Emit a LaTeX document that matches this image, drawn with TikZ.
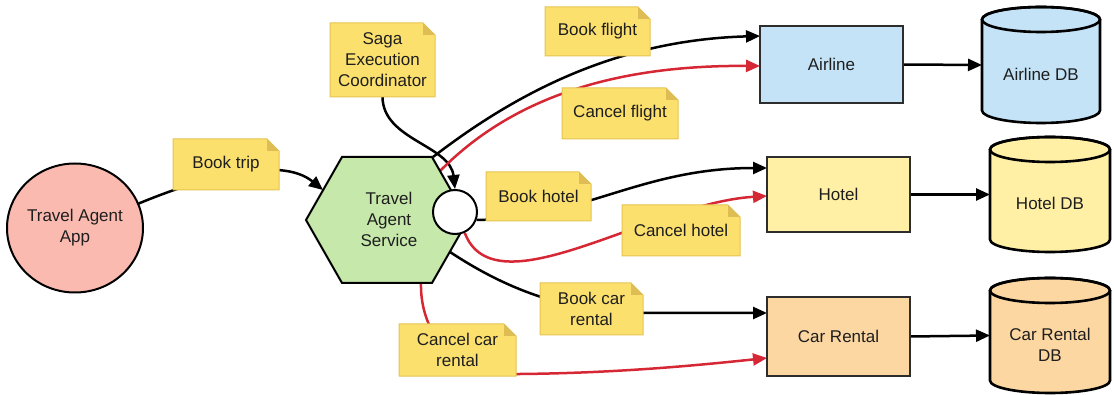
\documentclass[tikz,border=0pt]{standalone}
\usepackage{fontspec}
\setmainfont{Liberation Sans}
\usetikzlibrary{arrows.meta,shapes.geometric}
\pgfdeclarelayer{conn}
\pgfdeclarelayer{notes}
\pgfsetlayers{conn,notes,main}
\definecolor{notefill}{RGB}{252,224,110}
\definecolor{notebord}{RGB}{228,196,80}
\definecolor{notefold}{RGB}{222,190,84}
\definecolor{appfill}{RGB}{250,186,176}
\definecolor{hexfill}{RGB}{198,232,170}
\definecolor{airfill}{RGB}{196,227,247}
\definecolor{hotfill}{RGB}{255,240,166}
\definecolor{carfill}{RGB}{253,215,162}
\definecolor{redline}{RGB}{214,40,52}
\definecolor{txt}{RGB}{30,30,30}
\definecolor{boxline}{RGB}{45,45,45}
\newcommand\mynote[6]{%
  \node[lbl, minimum width=#4pt, minimum height=#5pt] (#1) at (#2,#3) {#6};
  \begin{pgfonlayer}{notes}
    \filldraw[fill=notefill, draw=notebord, line width=1pt] (#1.south west) -- (#1.north west) -- ([xshift=-12pt]#1.north east) -- ([yshift=-12pt]#1.north east) -- (#1.south east) -- cycle;
    \fill[notefold] ([xshift=-12pt]#1.north east) -- ([yshift=-12pt]#1.north east) -- ([xshift=-12pt,yshift=-12pt]#1.north east) -- cycle;
  \end{pgfonlayer}}
\newcommand\mycyl[8]{% name, cx, cy, w, h, ry, fill, text
  \filldraw[dbline, fill=#7] ({#2-#4/2},{#3-#5/2+#6}) -- ({#2-#4/2},{#3+#5/2-#6})
    arc[start angle=180, end angle=360, x radius=#4/2*1pt, y radius=#6pt]
    -- ({#2+#4/2},{#3-#5/2+#6})
    arc[start angle=0, end angle=180, x radius=#4/2*1pt, y radius=#6pt] -- cycle;
  \draw[dbline] (#2,{#3-#5/2+#6}) ellipse[x radius=#4/2*1pt, y radius=#6pt];
  \node[inner sep=0pt, outer sep=0pt, minimum width=#4pt, minimum height=#5pt] (#1) at (#2,#3) {};
  \node[lbl] (#1t) at (#2,{#3+9}) {#8};}
\begin{document}
\begin{tikzpicture}[x=1pt,y=-1pt,
  lbl/.style={font=\fontsize{17pt}{21pt}\selectfont, text=txt, align=center, inner sep=0pt, outer sep=0pt},
  svc/.style={lbl, draw=boxline, line width=2pt, minimum width=143pt},
  dbline/.style={draw=black, line width=2.6pt},
  conn/.style={line width=2.5pt, -{Triangle[length=14pt,width=12pt]}},
  shapeline/.style={draw=black, line width=2pt}]
\useasboundingbox (0,0) rectangle (1114,395);

% Travel agent app
\node[lbl, ellipse, shapeline, fill=appfill, minimum width=136pt, minimum height=129pt] (app) at (75,228) {Travel Agent\\App};

% Hexagon service
\filldraw[shapeline, fill=hexfill] (306,220) -- (342,157) -- (432,157) -- (468,220) -- (432,283) -- (342,283) -- cycle;
\node[lbl] (tas) at (389,219) {Travel\\Agent\\Service};
\coordinate (hexTR) at (433,157);
\coordinate (hexR1) at (440,171);
\coordinate (hexR2) at (450,252);
\coordinate (hexB) at (421,283);
\coordinate (hexTL) at (323,190);
\node[circle, shapeline, fill=white, minimum size=44pt, inner sep=0pt] (sec) at (455,212) {};

% Services
\node[svc, fill=airfill, minimum height=77pt] (air) at (831.5,64.5) {Airline};
\node[svc, fill=hotfill, minimum height=75pt] (hot) at (838.5,194.5) {Hotel};
\node[svc, fill=carfill, minimum height=79pt] (car) at (838.5,336.5) {Car Rental};

% Databases
\mycyl{adb}{1041}{65}{118}{116}{12.5}{airfill}{Airline DB}
\mycyl{hdb}{1050}{194.5}{120}{115}{12.5}{hotfill}{Hotel DB}
\mycyl{cdb}{1050}{335.5}{120}{115}{12.5}{carfill}{Car Rental\\DB}

% Notes
\mynote{ntrip}{226}{164.5}{106}{51}{Book trip}
\mynote{saga}{382.5}{60}{105}{74}{Saga\\Execution\\Coordinator}
\mynote{nbf}{597.5}{31.5}{105}{49}{Book flight}
\mynote{ncf}{620}{113.5}{116}{51}{Cancel flight}
\mynote{nbh}{538.5}{196.5}{105}{49}{Book hotel}
\mynote{nch}{681}{230.5}{118}{51}{Cancel hotel}
\mynote{nbc}{591.5}{309}{103}{52}{Book car\\rental}
\mynote{ncc}{457.5}{350}{117}{52}{Cancel car\\rental}

% Connectors
\begin{pgfonlayer}{conn}
\draw[conn] (app.21) .. controls (200,178) and (280,155) .. (hexTL);
\draw[conn] (saga.south) .. controls (383,140) and (450,145) .. (sec.north);
\draw[conn] (hexTR) .. controls (520,90) and (620,40) .. ([yshift=28.5pt]air.west);
\draw[conn, redline] (hexR1) .. controls (510,100) and (610,65) .. ([yshift=-1.5pt]air.west);
\draw[conn] (sec.-20) .. controls (580,220) and (640,168) .. ([yshift=26.5pt]hot.west);
\draw[conn, redline] (sec.-65) .. controls (495,312) and (650,203) .. ([yshift=-1.5pt]hot.west);
\draw[conn] (hexR2) .. controls (500,285) and (560,312) .. (640,313) -- ([yshift=23.5pt]car.west);
\draw[conn, redline] (hexB) .. controls (420,320) and (440,375) .. (520,374) .. controls (620,373) and (700,365) .. ([yshift=-21.5pt]car.west);
\draw[conn] (air.east) -- (adb.west);
\draw[conn] (hot.east) -- (hdb.west);
\draw[conn] (car.east) -- (cdb.west);
\end{pgfonlayer}
\end{tikzpicture}
\end{document}
